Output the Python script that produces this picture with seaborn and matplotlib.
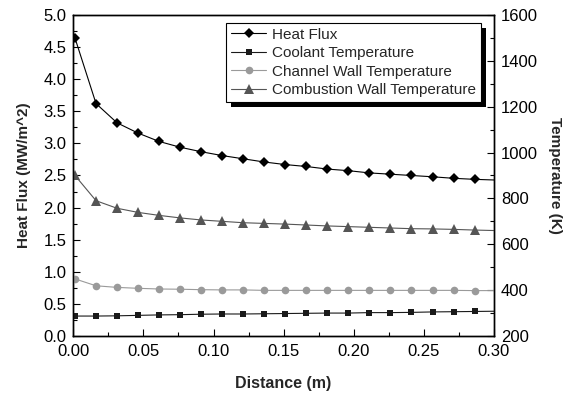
import matplotlib
matplotlib.use("Agg")
import matplotlib.pyplot as plt
import seaborn as sns
from matplotlib.ticker import MultipleLocator
from matplotlib.patches import Rectangle

distance = [0.0012, 0.0162, 0.0312, 0.0462, 0.0612, 0.0762, 0.0912, 0.1062, 0.1212, 0.1362,
            0.1512, 0.1662, 0.1812, 0.1962, 0.2112, 0.2262, 0.2412, 0.2562, 0.2712, 0.2862, 0.30]
heat_flux = [4.64, 3.62, 3.32, 3.16, 3.03, 2.94, 2.87, 2.81, 2.76, 2.71,
             2.67, 2.64, 2.60, 2.575, 2.54, 2.52, 2.50, 2.48, 2.456, 2.44, 2.43]
coolant_temp = [287, 287, 288, 290, 292, 293, 295, 296, 296, 297,
                298, 299, 300, 300, 302, 302, 303, 305, 306, 307, 308]
channel_wall_temp = [449, 419, 412, 408, 405, 404, 402, 401, 401, 399,
                     399, 399, 399, 399, 399, 399, 399, 399, 399, 398, 398]
combustion_wall_temp = [900, 790, 757, 739, 726, 715, 706, 700, 694, 691,
                        688, 684, 680, 677, 674, 671, 668, 667, 665, 662, 660]

sns.set_style("white")
plt.rcParams["font.family"] = ["Liberation Sans", "DejaVu Sans"]

fig = plt.figure(figsize=(5.71, 3.94), dpi=100)
ax = fig.add_axes([0.1284, 0.1472, 0.7366, 0.8148])
ax2 = ax.twinx()

mk = slice(0, 20)
sns.lineplot(x=distance, y=heat_flux, ax=ax, color="black", marker="D", markersize=5,
             linewidth=0.8, markevery=mk, markeredgewidth=0, label="Heat Flux", legend=False)
sns.lineplot(x=distance, y=coolant_temp, ax=ax2, color="#1a1a1a", marker="s", markersize=5,
             linewidth=0.8, markevery=mk, markeredgewidth=0, label="Coolant Temperature", legend=False)
sns.lineplot(x=distance, y=channel_wall_temp, ax=ax2, color="#9a9a9a", marker="o", markersize=5.5,
             linewidth=0.8, markevery=mk, markeredgewidth=0, label="Channel Wall Temperature", legend=False)
sns.lineplot(x=distance, y=combustion_wall_temp, ax=ax2, color="#555555", marker="^", markersize=6.5,
             linewidth=0.8, markevery=mk, markeredgewidth=0, label="Combustion Wall Temperature", legend=False)

ax.set_xlim(0, 0.30)
ax.set_ylim(0, 5.0)
ax2.set_ylim(200, 1600)

ax.xaxis.set_major_locator(MultipleLocator(0.05))
ax.xaxis.set_minor_locator(MultipleLocator(0.025))
ax.yaxis.set_major_locator(MultipleLocator(0.5))
ax.yaxis.set_minor_locator(MultipleLocator(0.25))
ax2.yaxis.set_major_locator(MultipleLocator(200))
ax2.yaxis.set_minor_locator(MultipleLocator(100))
ax.xaxis.set_major_formatter(plt.FuncFormatter(lambda v, p: f"{v:.2f}"))
ax.yaxis.set_major_formatter(plt.FuncFormatter(lambda v, p: f"{v:.1f}"))

for a in (ax, ax2):
    for s in a.spines.values():
        s.set_color("black")
        s.set_linewidth(1.0)
ax.tick_params(axis="both", which="both", direction="in", labelsize=12, colors="black",
               top=False, right=False, bottom=True, left=True)
ax.tick_params(which="major", length=5, width=0.8)
ax.tick_params(which="minor", length=3, width=0.8)
ax.tick_params(axis="x", which="major", pad=6)
ax.tick_params(axis="y", which="major", pad=5)
ax2.tick_params(axis="y", which="both", direction="in", labelsize=12, colors="black",
                right=True, left=False)
ax2.tick_params(which="major", length=5, width=0.8, pad=5)
ax2.tick_params(which="minor", length=3, width=0.8)

ax.set_xlabel("Distance (m)", fontsize=11.5, fontweight="bold", labelpad=12)
ax.set_ylabel("Heat Flux (MW/m^2)", fontsize=11, fontweight="bold", labelpad=9)
ax2.set_ylabel("Temperature (K)", fontsize=11, fontweight="bold", rotation=270, labelpad=17)

h1, l1 = ax.get_legend_handles_labels()
h2, l2 = ax2.get_legend_handles_labels()
leg = ax2.legend(h1 + h2, l1 + l2, loc="upper right", bbox_to_anchor=(0.969, 0.975),
                 fontsize=11, frameon=True, fancybox=False, edgecolor="black",
                 facecolor="white", framealpha=1.0,
                 handlelength=2.3, borderpad=0.3, labelspacing=0.3, handletextpad=0.4,
                 borderaxespad=0)
leg.get_frame().set_linewidth(0.8)
leg.set_zorder(10)

fig.canvas.draw()
bb = leg.get_window_extent()
shadow = Rectangle((bb.x0 + 5, bb.y0 - 5), bb.width, bb.height, transform=None,
                   facecolor="black", edgecolor="none", zorder=9)
ax2.add_artist(shadow)

fig.savefig("out.png", dpi=100)
